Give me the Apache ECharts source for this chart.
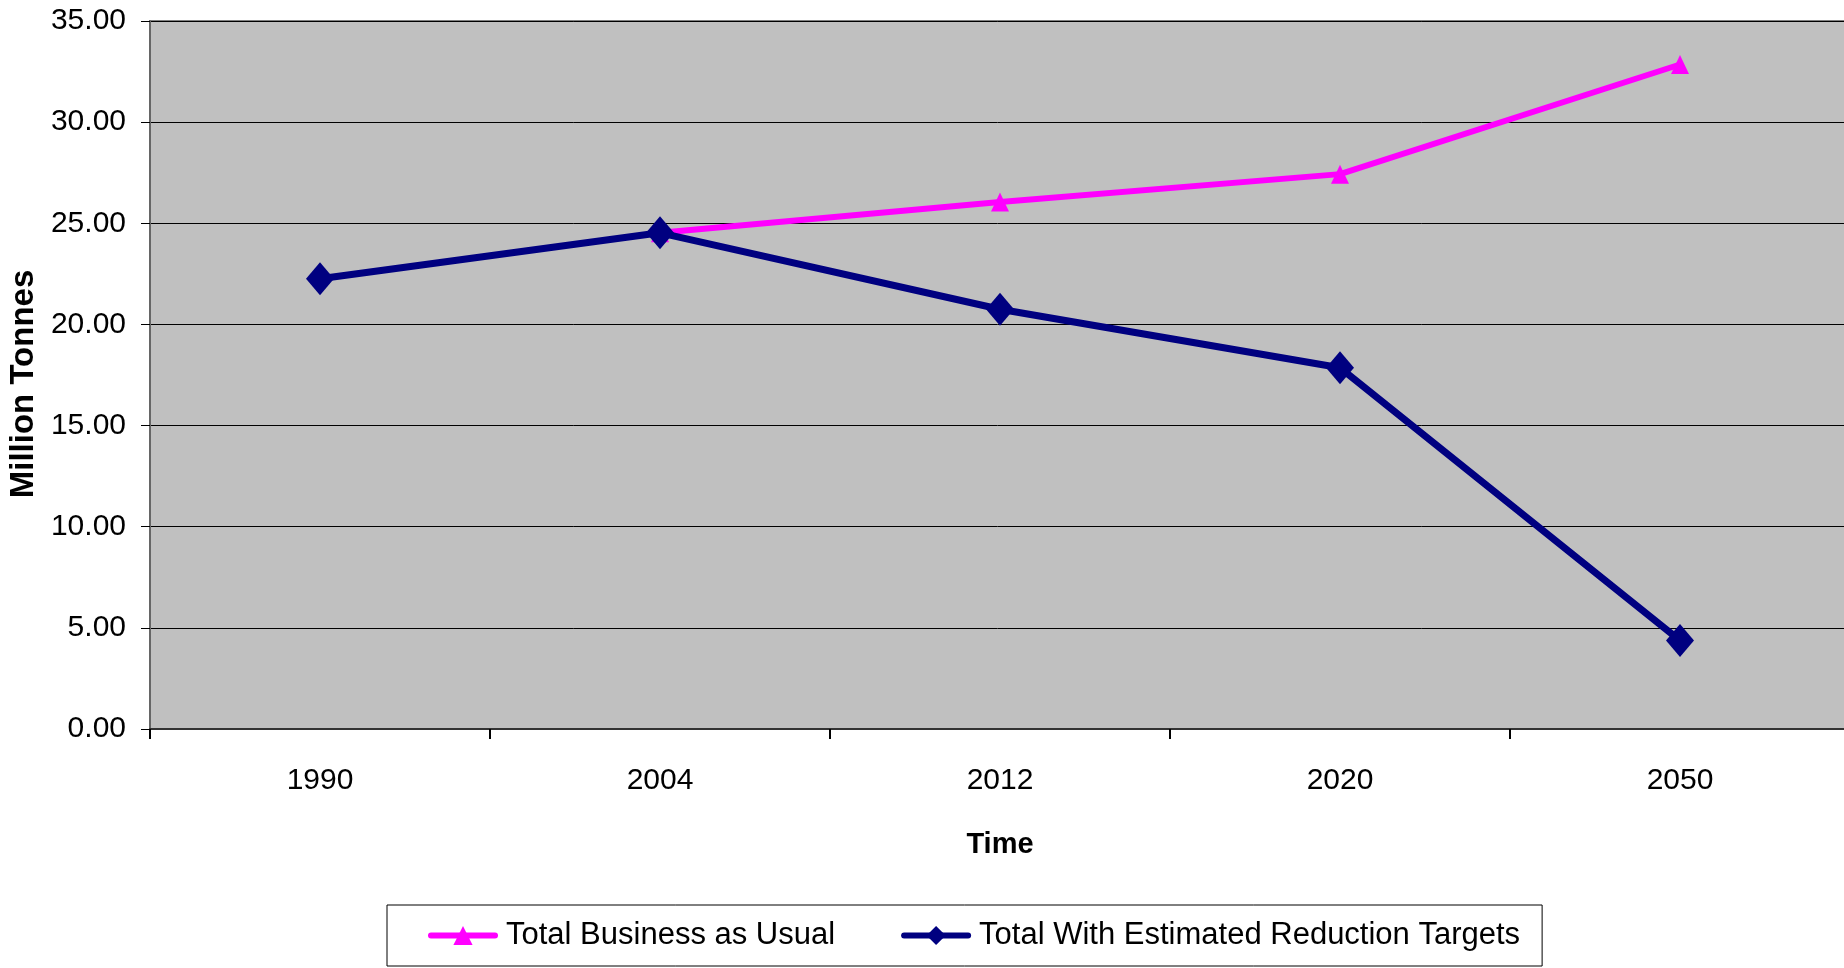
<!DOCTYPE html>
<html>
<head>
<meta charset="utf-8">
<script src="https://cdn.jsdelivr.net/npm/echarts@6/dist/echarts.min.js"></script>
<style>html,body{margin:0;padding:0;background:#fff;}#c{width:1844px;height:968px;}</style>
</head>
<body>
<div id="c"></div>
<script>
const categories = ['1990', '2004', '2012', '2020', '2050'];
const businessAsUsual = [null, 24.53, 26.05, 27.43, 32.85];
const withReductionTargets = [22.26, 24.53, 20.75, 17.86, 4.37];
const seriesNames = ['Total Business as Usual', 'Total With Estimated Reduction Targets'];
const yTicks = { min: 0, max: 35, interval: 5 };

const FONT = "'Liberation Sans', Arial, sans-serif";
const chart = echarts.init(document.getElementById('c'));
chart.setOption({
  animation: false,
  backgroundColor: '#ffffff',
  grid: {
    left: 150, top: 21, width: 1700, height: 708,
    outerBoundsMode: 'none',
    containLabel: false,
    show: true, backgroundColor: '#C0C0C0', borderColor: '#808080', borderWidth: 2
  },
  legend: {
    left: 387, top: 905,
    padding: [15, 22, 15, 41],
    borderColor: '#000', borderWidth: 1,
    itemGap: 66, itemWidth: 64, itemHeight: 24,
    lineStyle: { width: 6, cap: 'round' },
    textStyle: { fontFamily: FONT, fontSize: 31, color: '#000', padding: [0, 0, 0, 6] },
    data: seriesNames
  },
  xAxis: {
    type: 'category',
    data: categories,
    boundaryGap: true,
    name: 'Time',
    nameLocation: 'middle',
    nameGap: 101,
    nameTextStyle: { fontFamily: FONT, fontSize: 29, fontWeight: 'bold', color: '#000' },
    axisLine: { show: true, lineStyle: { color: '#333', width: 2 } },
    axisTick: { show: true, length: 10, lineStyle: { color: '#000', width: 2 } },
    axisLabel: { fontFamily: FONT, fontSize: 30, color: '#000', margin: 37 },
    splitLine: { show: false }
  },
  yAxis: {
    type: 'value',
    min: yTicks.min, max: yTicks.max, interval: yTicks.interval,
    name: 'Million Tonnes',
    nameLocation: 'middle',
    nameGap: 108,
    nameTextStyle: { fontFamily: FONT, fontSize: 33, fontWeight: 'bold', color: '#000', padding: [0, 18, 0, 0] },
    axisLine: { show: true, lineStyle: { color: '#666', width: 2 } },
    axisTick: { show: true, length: 9, lineStyle: { color: '#000', width: 1 } },
    axisLabel: { fontFamily: FONT, fontSize: 30, color: '#000', margin: 24, formatter: v => v.toFixed(2) },
    splitLine: { show: true, lineStyle: { color: '#000', width: 1 } }
  },
  series: [
    {
      name: seriesNames[0], type: 'line', data: businessAsUsual,
      connectNulls: false,
      lineStyle: { color: '#FF00FF', width: 6 },
      itemStyle: { color: '#FF00FF' },
      symbol: 'triangle', symbolSize: [18, 19],
      z: 2
    },
    {
      name: seriesNames[1], type: 'line', data: withReductionTargets,
      lineStyle: { color: '#000080', width: 7 },
      itemStyle: { color: '#000080' },
      symbol: 'diamond', symbolSize: [28, 33],
      z: 3
    }
  ]
});
</script>
</body>
</html>
